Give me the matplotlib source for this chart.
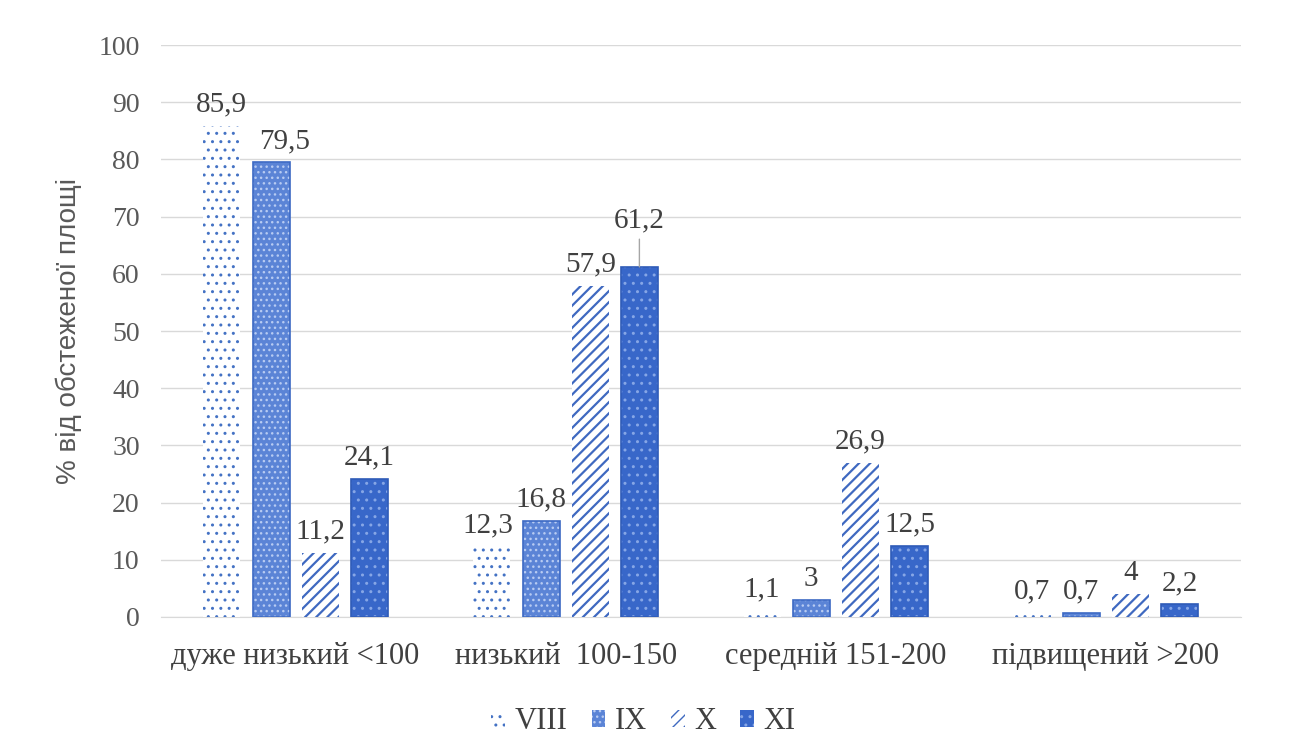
import matplotlib.pyplot as plt
import numpy as np

plt.rcParams['font.family'] = ['Liberation Serif', 'DejaVu Serif']

# share of surveyed area per class, by month
categories = ['дуже низький <100', 'низький  100-150', 'середній 151-200', 'підвищений >200']
months = ['VIII', 'IX', 'X', 'XI']
viii = [85.9, 12.3, 1.1, 0.7]
ix = [79.5, 16.8, 3.0, 0.7]
x_ = [11.2, 57.9, 26.9, 4.0]
xi = [24.1, 61.2, 12.5, 2.2]
yticks = list(range(0, 101, 10))

series = [viii, ix, x_, xi]
styles = [
    dict(facecolor='white', edgecolor='#4472c4', hatch='..', linewidth=0),
    dict(facecolor='#5b84d6', edgecolor='#b7cbf2', hatch='...', linewidth=0),
    dict(facecolor='white', edgecolor='#3f69c0', hatch='///', linewidth=0),
    dict(facecolor='#3867c9', edgecolor='#86a6e6', hatch='..', linewidth=0),
]
hatch_lw = [1.0, 1.0, 1.6, 1.0]
border = [None, '#3d6ac4', None, '#2f5bb8']

fig = plt.figure(figsize=(13, 7.54), dpi=100)
ax = fig.add_axes([0.1235, 0.1817, 0.831, 0.7586])

pos = np.arange(len(categories))
step = 0.182
width = 0.137
offsets = (np.arange(4) - 1.5) * step

# label nudges in points (dx, dy) for crowded spots
nudge = {(1, 0): (10, 0), (0, 1): (-3, 0), (3, 1): (0, 18)}

for k, vals in enumerate(series):
    with plt.rc_context({'hatch.linewidth': hatch_lw[k]}):
        bars = ax.bar(pos + offsets[k], vals, width, label=months[k], zorder=3, **styles[k])
    if border[k]:
        ax.bar(pos + offsets[k], vals, width, facecolor='none', edgecolor=border[k],
               linewidth=1.2, zorder=4)
    for i, (b, v) in enumerate(zip(bars, vals)):
        dx, dy = nudge.get((k, i), (0, 0))
        txt = f"{v:g}".replace('.', ',')
        arrow = None
        if dy > 0:
            arrow = dict(arrowstyle='-', color='#a6a6a6', lw=1, shrinkA=2, shrinkB=0)
        ax.annotate(txt, xy=(b.get_x() + b.get_width() / 2, v),
                    xytext=(dx, 6 + dy), textcoords='offset points',
                    ha='center', va='bottom', fontsize=21, color='#404040',
                    arrowprops=arrow, zorder=5)

ax.set_xlim(-0.5, len(categories) - 0.5)
ax.set_ylim(0, 100)
ax.set_yticks(yticks)
ax.set_xticks(pos)
ax.set_xticklabels(categories, fontsize=22, color='#404040')
ax.tick_params(axis='y', labelsize=20, labelcolor='#595959', length=0, pad=15)
ax.tick_params(axis='x', length=0, pad=18)
ax.yaxis.grid(True, color='#d9d9d9', linewidth=1, zorder=0)
ax.set_axisbelow(True)
for s in ['top', 'right', 'left']:
    ax.spines[s].set_visible(False)
ax.spines['bottom'].set_color('#d9d9d9')
ax.set_ylabel('% від обстеженої площі', fontsize=20, color='#595959', labelpad=12,
              family=['Liberation Sans', 'DejaVu Sans'])

ax.legend(loc='upper center', bbox_to_anchor=(0.447, -0.11), ncol=4, frameon=False,
          fontsize=22, handlelength=0.45, handleheight=0.45, handletextpad=0.3,
          columnspacing=0.8, labelcolor='#404040')

fig.savefig('out.png', dpi=100)
